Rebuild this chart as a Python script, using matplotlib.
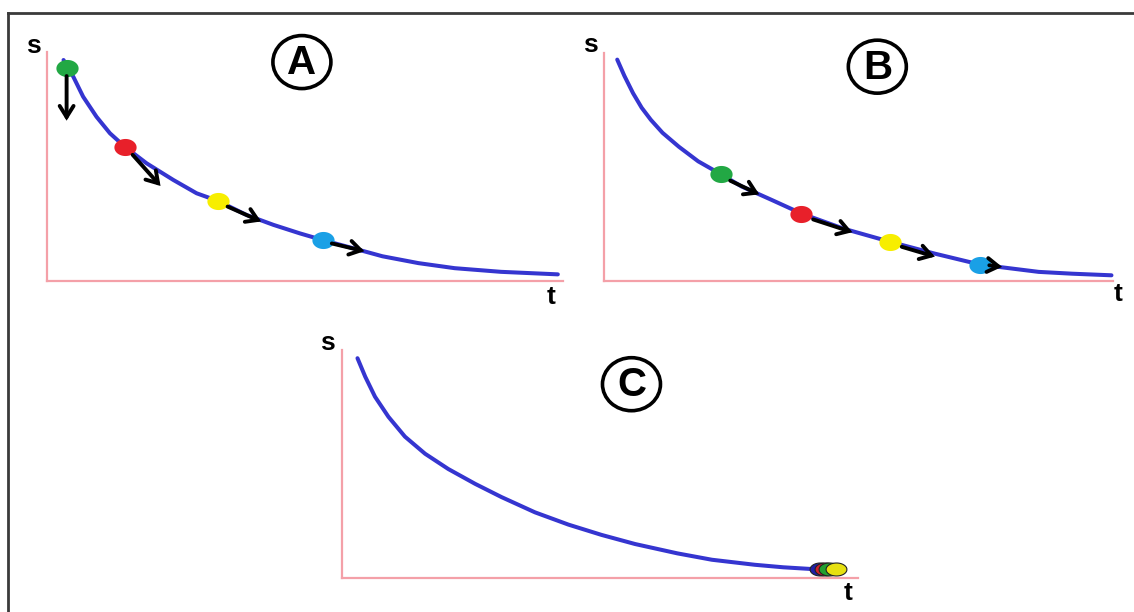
import numpy as np
import matplotlib
matplotlib.use("Agg")
import matplotlib.pyplot as plt
from matplotlib.patches import Ellipse
from matplotlib.lines import Line2D
from matplotlib.path import Path

plt.rcParams['font.family'] = ['Liberation Sans', 'DejaVu Sans']

# curve samples for each panel (t, s), both axes run 0..10
t_A = [0.32, 0.51, 0.70, 0.96, 1.22, 1.51, 1.93, 2.45, 2.90, 3.32, 3.87, 4.39,
       4.90, 5.34, 5.90, 6.50, 7.20, 7.90, 8.80, 9.90]
s_A = [9.65, 8.92, 8.05, 7.17, 6.45, 5.86, 5.14, 4.41, 3.83, 3.49, 2.88, 2.45,
       2.08, 1.79, 1.45, 1.08, 0.78, 0.56, 0.40, 0.29]

t_B = [0.26, 0.40, 0.57, 0.74, 0.92, 1.15, 1.47, 1.85, 2.29, 2.70, 3.30, 3.88,
       4.70, 5.62, 6.50, 7.39, 8.00, 8.54, 9.20, 9.97]
s_B = [9.71, 9.00, 8.24, 7.60, 7.07, 6.50, 5.89, 5.25, 4.69, 4.15, 3.55, 2.96,
       2.30, 1.72, 1.20, 0.72, 0.55, 0.40, 0.32, 0.25]

t_C = [0.30, 0.45, 0.64, 0.90, 1.22, 1.61, 2.06, 2.58, 3.09, 3.74, 4.39, 5.03,
       5.68, 6.50, 7.17, 8.00, 8.55, 9.20]
s_C = [9.64, 8.83, 7.95, 7.07, 6.20, 5.45, 4.78, 4.13, 3.55, 2.88, 2.34, 1.89,
       1.49, 1.08, 0.80, 0.58, 0.47, 0.38]

# particles sitting on the curve
dot_colors = ['#22a844', '#e8202a', '#f7ee00', '#1aa0e6']
dots_A_t = [0.38, 1.51, 3.32, 5.34]
dots_A_s = [9.30, 5.86, 3.49, 1.79]
dots_B_t = [2.29, 3.88, 5.62, 7.39]
dots_B_s = [4.69, 2.96, 1.72, 0.72]

# piled up at the end in C (drawn back to front)
pile_colors = ['#1f1fa8', '#d0202a', '#22a030', '#e6e010']
pile_t = [9.26, 9.36, 9.44, 9.57]
pile_s = [0.40, 0.40, 0.40, 0.40]

# motion arrows (start t, start s, end t, end s)
arrows_A = [(0.38, 8.95, 0.38, 7.00),
            (1.66, 5.51, 2.20, 4.15),
            (3.50, 3.25, 4.15, 2.60),
            (5.52, 1.64, 6.15, 1.30)]
arrows_B = [(2.48, 4.40, 3.05, 3.80),
            (4.11, 2.70, 4.88, 2.14),
            (5.85, 1.50, 6.50, 1.07),
            (7.57, 0.69, 7.82, 0.62)]

W, H = 1134, 612
fig = plt.figure(figsize=(W / 100, H / 100), dpi=100)

# outer frame (top and left edges only show)
fx = 8 / W
fy = 1 - 13 / H
fig.add_artist(Line2D([fx, 1.0], [fy, fy], color='#3a3a3a', lw=2))
fig.add_artist(Line2D([fx, fx], [fy, 0.0], color='#3a3a3a', lw=2))

theta = np.linspace(0, 2 * np.pi, 64)
dot_marker = Path(np.column_stack([1.3 * np.cos(theta), np.sin(theta)]))
pile_marker = Path(np.column_stack([1.6 * np.cos(theta), np.sin(theta)]))


def panel(rect, letter, letter_pos, t, s, s_lab, t_lab):
    ax = fig.add_axes(rect)
    ax.set_xlim(0, 10)
    ax.set_ylim(0, 10)
    for side in ['top', 'right']:
        ax.spines[side].set_visible(False)
    for side in ['left', 'bottom']:
        ax.spines[side].set_color('#f4a0a8')
        ax.spines[side].set_linewidth(1.6)
    ax.set_xticks([])
    ax.set_yticks([])
    ax.patch.set_alpha(0)
    ax.plot(t, s, color='#3535d0', lw=2.9, solid_capstyle='round',
            solid_joinstyle='round', clip_on=False)

    # circled letter
    pw = rect[2] * W
    ph = rect[3] * H
    ax.add_patch(Ellipse(letter_pos, 58 / pw, 53 / ph, transform=ax.transAxes,
                         fc='white', ec='black', lw=2.6, clip_on=False))
    ax.text(letter_pos[0], letter_pos[1] - 0.005, letter, transform=ax.transAxes,
            ha='center', va='center', fontsize=29, fontweight='bold')

    ax.text(s_lab[0], s_lab[1], 's', transform=ax.transAxes, ha='center',
            va='center', fontsize=19, fontweight='bold')
    ax.text(t_lab[0], t_lab[1], 't', transform=ax.transAxes, ha='center',
            va='center', fontsize=19, fontweight='bold')
    return ax


def add_arrows(ax, arrows):
    for t0, s0, t1, s1 in arrows:
        ax.annotate('', xy=(t1, s1), xytext=(t0, s0),
                    arrowprops=dict(arrowstyle='->,head_length=0.8,head_width=0.5',
                                    color='black', lw=2.8, shrinkA=0, shrinkB=0,
                                    joinstyle='miter'))


def add_dots(ax, ts, ss, colors, marker, size, edge=None):
    for tt, sv, c in zip(ts, ss, colors):
        ax.plot(tt, sv, marker=marker, ms=size, color=c, ls='none',
                mec=edge if edge else c, mew=0.8 if edge else 0, clip_on=False)


ax_A = panel([47 / W, 1 - 281 / H, 516 / W, 229 / H], 'A', (0.494, 0.956),
             t_A, s_A, (-0.027, 1.025), (0.977, -0.07))
add_arrows(ax_A, arrows_A)
add_dots(ax_A, dots_A_t, dots_A_s, dot_colors, dot_marker, 16)

ax_B = panel([604 / W, 1 - 281 / H, 509 / W, 228 / H], 'B', (0.537, 0.94),
             t_B, s_B, (-0.026, 1.035), (1.009, -0.055))
add_arrows(ax_B, arrows_B)
add_dots(ax_B, dots_B_t, dots_B_s, dot_colors, dot_marker, 16)

ax_C = panel([342 / W, 1 - 578 / H, 516 / W, 228 / H], 'C', (0.561, 0.85),
             t_C, s_C, (-0.029, 1.03), (0.98, -0.066))
add_dots(ax_C, pile_t, pile_s, pile_colors, pile_marker, 15, edge='#222222')

fig.savefig('out.png', dpi=100)
